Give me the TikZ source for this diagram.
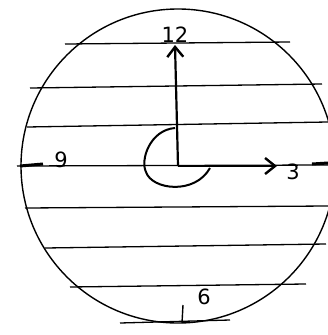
\documentclass[tikz,border=0pt]{standalone}
\usepackage{fontspec}
\setmainfont{DejaVu Sans}
\usetikzlibrary{arrows.meta}
\begin{document}
\begin{tikzpicture}[x=1pt,y=-1pt,
  ink/.style={line width=1.4pt,black},
  rule/.style={line width=1.3pt,black},
  hand/.style={font=\fontsize{21}{21}\selectfont,inner sep=0pt},
  tip/.style={-{Straight Barb[length=10pt,width=16pt,line width=2.4pt]}}]
\useasboundingbox (0,0) rectangle (328,335);
\clip (0,0) rectangle (328,335);
% clock face
\coordinate (c) at (178,166);
\draw[ink] (c) circle[radius=157];
% ruled lines
\draw[rule] (65,44) -- (290,42);
\draw[rule] (30,88) -- (322,84);
\draw[rule] (27,127) -- (328,122);
\draw[rule] (17,166) -- (328,165);
\draw[rule] (25,208) -- (328,206);
\draw[rule] (45,248) -- (326,244);
\draw[rule] (70,287) -- (306,284);
\draw[rule] (120,323) -- (230,320);
% hands
\coordinate (top) at (175,45);
\coordinate (right) at (277,166);
\draw[line width=2.2pt,tip] (c) -- (top);
\draw[line width=2.2pt,tip] (c) -- (right);
% angle arc
\draw[line width=2pt] (175,128) .. controls (150,130) and (140,160) .. (146,172)
  .. controls (152,190) and (195,195) .. (210,168);
% tick marks
\coordinate (t9a) at (20,166); \coordinate (t9b) at (43,164);
\draw[line width=3pt] (t9a) -- (t9b);
\coordinate (t3a) at (312,164); \coordinate (t3b) at (328,163);
\draw[line width=3pt] (t3a) -- (t3b);
\coordinate (t6a) at (183,305); \coordinate (t6b) at (182,323);
\draw[line width=1.4pt] (t6a) -- (t6b);
% labels
\node[hand] (n12) at (175,35) {12};
\node[hand] (n9) at (61,160) {9};
\node[hand] (n3) at (293,172) {3};
\node[hand] (n6) at (204,297) {6};
\end{tikzpicture}
\end{document}
